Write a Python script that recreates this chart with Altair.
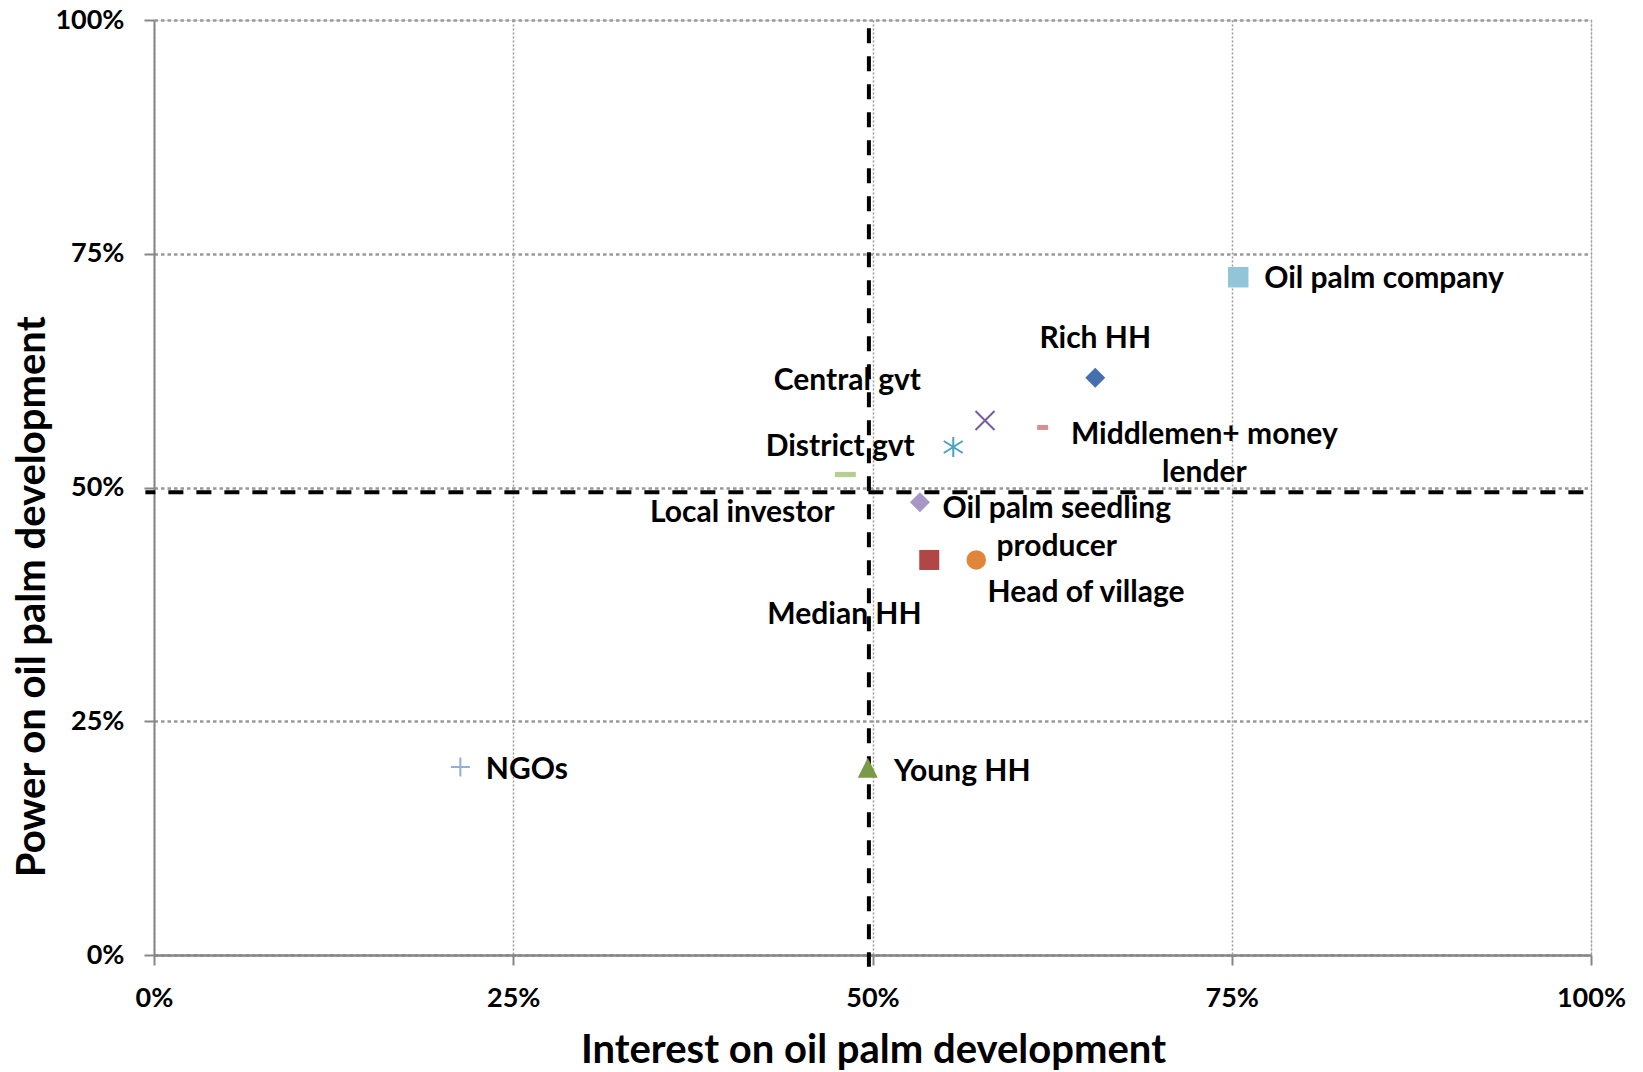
import altair as alt
import pandas as pd

# Stakeholders and their scores (share of maximum)
stakeholders = [
    "Oil palm company",
    "Rich HH",
    "Central gvt",
    "Middlemen+ money\nlender",
    "District gvt",
    "Local investor",
    "Oil palm seedling\nproducer",
    "Median HH",
    "Head of village",
    "NGOs",
    "Young HH",
]
interest = [0.7545, 0.6550, 0.5783, 0.6184, 0.5562, 0.4811, 0.5330, 0.5395, 0.5722, 0.2132, 0.4967]
power = [0.7249, 0.6173, 0.5717, 0.5642, 0.5433, 0.5139, 0.4843, 0.4225, 0.4225, 0.2011, 0.2002]

# Quadrant split lines
interest_split = 0.4975
power_split = 0.495

tick_values = [0, 0.25, 0.5, 0.75, 1.0]

# Marker glyphs (custom paths live in a -1..1 box)
TRIANGLE = "M0,-1L1,1L-1,1Z"
X_MARK = "M-1,-1L1,1M-1,1L1,-1"
STAR_MARK = "M0,-1L0,1M-0.95,-0.6L0.95,0.6M-0.95,0.6L0.95,-0.6"
PLUS_MARK = "M-1,0L1,0M0,-1L0,1"
LONG_DASH = "M-1,-0.25L1,-0.25L1,0.25L-1,0.25Z"
SHORT_DASH = "M-1,-0.45L1,-0.45L1,0.45L-1,0.45Z"

# name -> (shape, colour, size, filled)
marker_style = {
    "Oil palm company": ("square", "#92C5D8", 420, True),
    "Rich HH": ("diamond", "#4470AE", 400, True),
    "Central gvt": (X_MARK, "#7A5C9C", 361, False),
    "Middlemen+ money\nlender": (SHORT_DASH, "#D6918F", 121, True),
    "District gvt": (STAR_MARK, "#45A5C0", 400, False),
    "Local investor": (LONG_DASH, "#B6CF8E", 441, True),
    "Oil palm seedling\nproducer": ("diamond", "#A797C7", 400, True),
    "Median HH": ("square", "#B04645", 400, True),
    "Head of village": ("circle", "#E0853A", 380, True),
    "NGOs": (PLUS_MARK, "#93ADD6", 361, False),
    "Young HH": (TRIANGLE, "#7A9B45", 400, True),
}

# name -> (align, dx, dy) for the data labels
label_layout = {
    "Oil palm company": ("left", 26, 10.6),
    "Rich HH": ("center", 0, -30),
    "Central gvt": ("right", -64, -30.7),
    "Middlemen+ money\nlender": ("center", 161.7, 16.6),
    "District gvt": ("right", -38.5, 8.5),
    "Local investor": ("center", -103, 47.7),
    "Oil palm seedling\nproducer": ("center", 136.8, 15.6),
    "Median HH": ("center", -84.8, 63.8),
    "Head of village": ("center", 109.8, 42.2),
    "NGOs": ("left", 25.4, 11.8),
    "Young HH": ("left", 26.3, 12.7),
}

FONT = "Lato"

df = pd.DataFrame({"name": stakeholders, "interest": interest, "power": power})
df["shape"] = [marker_style[n][0] for n in stakeholders]
df["colour"] = [marker_style[n][1] for n in stakeholders]
df["size"] = [marker_style[n][2] for n in stakeholders]
df["filled"] = [marker_style[n][3] for n in stakeholders]

x_scale = alt.Scale(domain=[0, 1], nice=False, zero=False)
y_scale = alt.Scale(domain=[0, 1], nice=False, zero=False)

x_axis = alt.Axis(
    values=tick_values, format=".0%",
    title="Interest on oil palm development",
    grid=True, gridColor="#9a9a9a", gridDash=[2, 2], gridWidth=1.5,
    domainColor="#868686", domainWidth=2.5,
    tickColor="#868686", tickSize=10, tickWidth=2,
    labelFont=FONT, labelFontSize=27, labelFontWeight="bold", labelColor="black",
    labelPadding=20, labelFlush=False, labelOverlap=False,
    titleFont=FONT, titleFontSize=40, titleFontWeight="bold", titleColor="black",
    titleX=719, titleY=107, titleBaseline="alphabetic", titleAlign="center",
)
y_axis = alt.Axis(
    values=tick_values, format=".0%",
    title="Power on oil palm development",
    grid=True, gridColor="#999999", gridDash=[3.5, 3], gridWidth=2.5,
    domainColor="#868686", domainWidth=2,
    tickColor="#868686", tickSize=10, tickWidth=2,
    labelFont=FONT, labelFontSize=27, labelFontWeight="bold", labelColor="black",
    labelPadding=20, labelFlush=False, labelOverlap=False,
    titleFont=FONT, titleFontSize=40, titleFontWeight="bold", titleColor="black",
    titleAngle=270, titleX=-109.4, titleY=576.3,
    titleBaseline="alphabetic", titleAlign="center",
)

X = alt.X("interest:Q", scale=x_scale, axis=x_axis)
Y = alt.Y("power:Q", scale=y_scale, axis=y_axis)

# Dashed quadrant lines
v_split = pd.DataFrame({"interest": [interest_split], "power": [1.0], "power_end": [-0.0125]})
h_split = pd.DataFrame({"interest": [-0.006], "interest_end": [1.0], "power": [power_split]})

v_rule = alt.Chart(v_split).mark_rule(
    color="black", strokeWidth=4, strokeDash=[15, 13], strokeDashOffset=19.7
).encode(x=X, y=Y, y2="power_end:Q")
h_rule = alt.Chart(h_split).mark_rule(
    color="black", strokeWidth=4, strokeDash=[15, 13], strokeDashOffset=5
).encode(x=X, x2="interest_end:Q", y=Y)

filled_pts = alt.Chart(df[df["filled"]]).mark_point(filled=True, opacity=1, strokeWidth=0).encode(
    x=X, y=Y,
    shape=alt.Shape("shape:N", scale=None),
    color=alt.Color("colour:N", scale=None),
    size=alt.Size("size:Q", scale=None),
)
line_pts = alt.Chart(df[~df["filled"]]).mark_point(filled=False, opacity=1, strokeWidth=2).encode(
    x=X, y=Y,
    shape=alt.Shape("shape:N", scale=None),
    color=alt.Color("colour:N", scale=None),
    size=alt.Size("size:Q", scale=None),
)

label_layers = []
for name in stakeholders:
    align, dx, dy = label_layout[name]
    label_layers.append(
        alt.Chart(df[df["name"] == name]).mark_text(
            align=align, baseline="alphabetic", dx=dx, dy=dy,
            font=FONT, fontSize=30, fontWeight="bold", color="black",
            lineBreak="\n", lineHeight=38,
        ).encode(x=X, y=Y, text="name:N")
    )

chart = alt.layer(v_rule, h_rule, filled_pts, line_pts, *label_layers).properties(
    width=1437, height=935,
    autosize=alt.AutoSizeParams(type="none"),
    padding={"left": 154, "top": 20, "right": 52, "bottom": 117},
).configure_view(stroke=None).configure(background="white")

chart.save("out.html", embed_options={"renderer": "svg", "actions": False})
